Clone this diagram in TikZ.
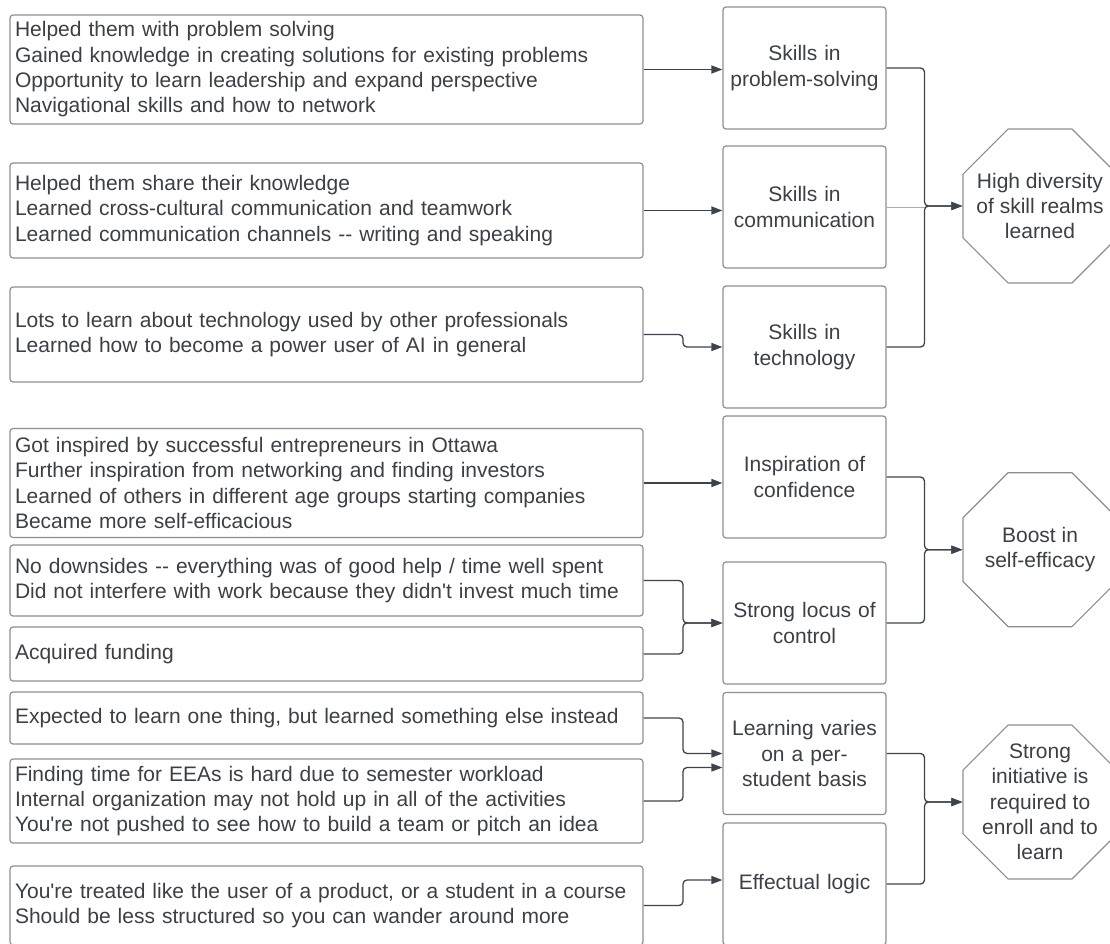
\documentclass[tikz,border=0pt]{standalone}
\usepackage{fontspec}
\setmainfont{Liberation Sans}[Ligatures=TeXOff]
\usetikzlibrary{arrows.meta,shapes.geometric,calc}
\definecolor{txt}{HTML}{3B3F46}
\definecolor{bord}{HTML}{8B8F95}
\definecolor{conn}{HTML}{3D434C}
\definecolor{thinln}{HTML}{A8ABB0}
\begin{document}
\begin{tikzpicture}[x=1pt,y=-1pt,
  every node/.style={font=\fontsize{21}{25.3}\selectfont, text=txt},
  lbox/.style={draw=bord, line width=1.2pt, rounded corners=3pt, text width=623pt, inner xsep=5pt, inner ysep=0pt, align=left, minimum width=633pt},
  mbox/.style={draw=bord, line width=1.2pt, rounded corners=3pt, text width=153pt, inner xsep=5pt, inner ysep=0pt, align=center, minimum width=163pt, minimum height=122pt},
  oct/.style={draw=bord, line width=1.2pt, regular polygon, regular polygon sides=8, minimum size=166.7pt, inner sep=0pt},
  octtext/.style={align=center, inner sep=0pt},
  link/.style={draw=conn, line width=1.3pt, rounded corners=4pt},
  arr/.style={link, -{Triangle[length=11pt,width=8pt]}},
  thinlink/.style={draw=thinln, line width=0.8pt},
]
\useasboundingbox (0,0) rectangle (1110,943);
\clip (0,0) rectangle (1110,943);

% left boxes
\node[lbox, minimum height=109pt] (l1) at (326.5,69.5) {Helped them with problem solving\\Gained knowledge in creating solutions for existing problems\\Opportunity to learn leadership and expand perspective\\Navigational skills and how to network};
\node[lbox, minimum height=95pt] (l2) at (326.5,210.5) {Helped them share their knowledge\\Learned cross-cultural communication and teamwork\\Learned communication channels -- writing and speaking};
\node[lbox, minimum height=95pt] (l3) at (326.5,334.5) {Lots to learn about technology used by other professionals\\Learned how to become a power user of AI in general};
\node[lbox, minimum height=109pt] (l4) at (326.5,483) {Got inspired by successful entrepreneurs in Ottawa\\Further inspiration from networking and finding investors\\Learned of others in different age groups starting companies\\Became more self-efficacious};
\node[lbox, minimum height=71pt] (l5) at (326.5,580.5) {No downsides -- everything was of good help / time well spent\\Did not interfere with work because they didn't invest much time};
\node[lbox, minimum height=54pt] (l6) at (326.5,654) {Acquired funding};
\node[lbox, minimum height=52pt] (l7) at (326.5,718) {Expected to learn one thing, but learned something else instead};
\node[lbox, minimum height=84pt] (l8) at (326.5,801) {Finding time for EEAs is hard due to semester workload\\Internal organization may not hold up in all of the activities\\You're not pushed to see how to build a team or pitch an idea};
\node[lbox, minimum height=79pt] (l9) at (326.5,905.5) {You're treated like the user of a product, or a student in a course\\Should be less structured so you can wander around more};

% middle boxes
\node[mbox] (m1) at (804.5,68) {Skills in\\problem-solving};
\node[mbox] (m2) at (804.5,207) {Skills in\\communication};
\node[mbox] (m3) at (804.5,347) {Skills in\\technology};
\node[mbox] (m4) at (804.5,477) {Inspiration of\\confidence};
\node[mbox] (m5) at (804.5,623) {Strong locus of\\control};
\node[mbox] (m6) at (804.5,753.5) {Learning varies\\on a per-\\student basis};
\node[mbox] (m7) at (804.5,884) {Effectual logic};

% octagons
\node[oct] (o1) at (1040,206) {};
\node[octtext] (o1t) at (o1.center) {High diversity\\of skill realms\\learned};
\node[oct] (o2) at (1040,549.7) {};
\node[octtext] (o2t) at (o2.center) {Boost in\\self-efficacy};
\node[oct] (o3) at (1040,802) {};
\node[octtext] (o3t) at (o3.center) {Strong\\initiative is\\required to\\enroll and to\\learn};

\coordinate (ex) at (683,0);
\coordinate (jx) at (924.5,0);
\coordinate (m6in) at ($(m6.west)+(0,14)$);
\coordinate (m7in) at ($(m7.west)+(0,-4)$);

% left to middle
\draw[arr] (l1.east) -- (l1.east -| m1.west);
\draw[arr] (l2.east) -- (l2.east -| m2.west);
\draw[arr] (l3.east) -- (l3.east -| ex) -- (ex |- m3.west) -- (m3.west);
\draw[arr] (l4.east) -- (l4.east -| m4.west);
\draw[arr] (l5.east) -- (l5.east -| ex) -- (ex |- m5.west) -- (m5.west);
\draw[arr] (l6.east) -- (l6.east -| ex) -- (ex |- m5.west) -- (m5.west);
\draw[arr] (l7.east) -- (l7.east -| ex) -- (ex |- m6.west) -- (m6.west);
\draw[arr] (l8.east) -- (l8.east -| ex) -- (ex |- m6in) -- (m6in);
\draw[arr] (l9.east) -- (l9.east -| ex) -- (ex |- m7in) -- (m7in);

% middle to octagons
\draw[thinlink] (m2.east) -- (m2.east -| jx);
\draw[arr] (m1.east) -- (m1.east -| jx) -- (jx |- o1.west) -- (o1.west);
\draw[arr] (m3.east) -- (m3.east -| jx) -- (jx |- o1.west) -- (o1.west);
\draw[arr] (m4.east) -- (m4.east -| jx) -- (jx |- o2.west) -- (o2.west);
\draw[arr] (m5.east) -- (m5.east -| jx) -- (jx |- o2.west) -- (o2.west);
\draw[arr] (m6.east) -- (m6.east -| jx) -- (jx |- o3.west) -- (o3.west);
\draw[arr] (m7.east) -- (m7.east -| jx) -- (jx |- o3.west) -- (o3.west);
\end{tikzpicture}
\end{document}
